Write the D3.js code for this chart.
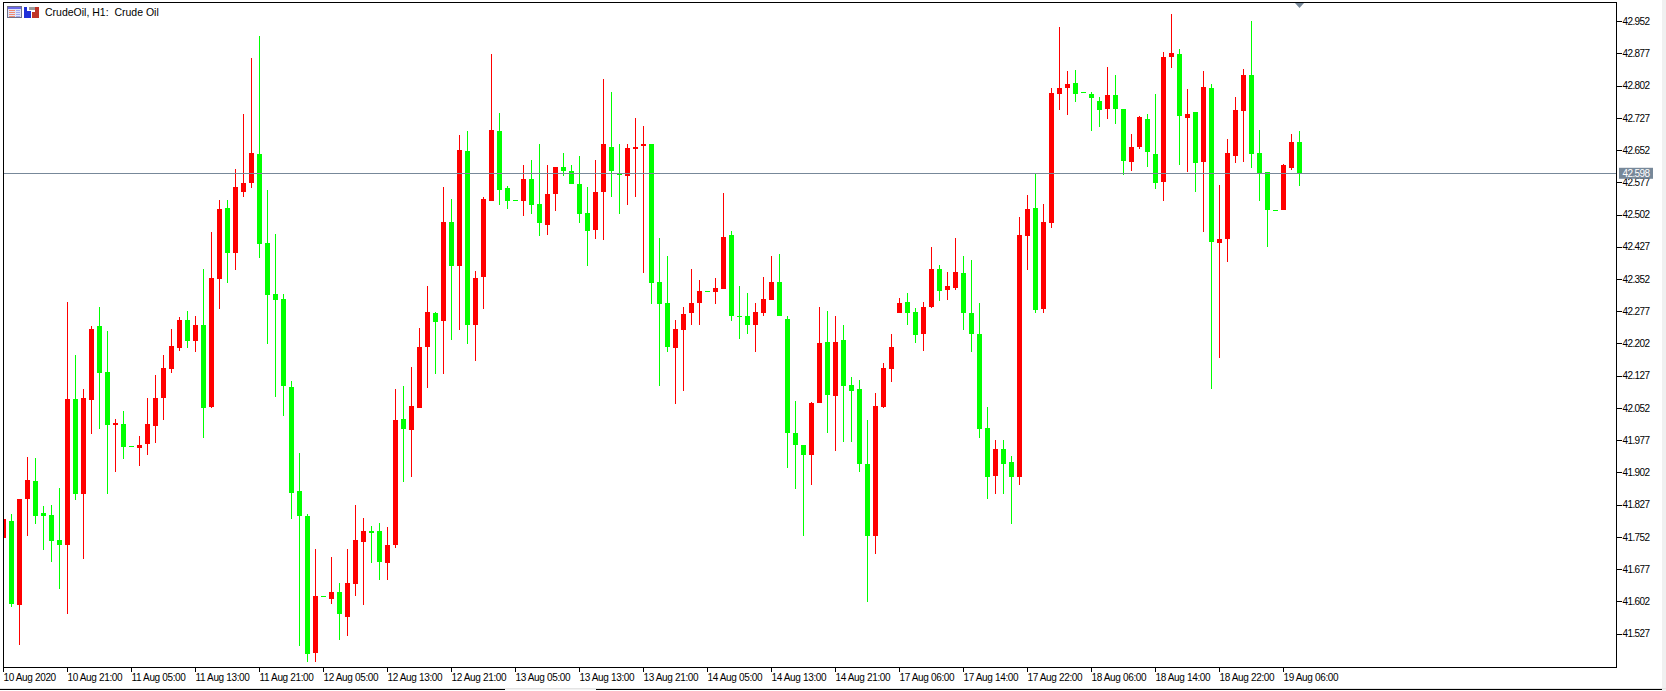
<!DOCTYPE html>
<html>
<head>
<meta charset="utf-8">
<title>CrudeOil, H1</title>
<script src="https://d3js.org/d3.v7.min.js"></script>
<style>
  html, body { margin: 0; padding: 0; background: #fff; overflow: hidden; }
  svg { display: block; }
  text { font-family: "Liberation Sans", sans-serif; font-size: 10px; fill: #000; }
  .axis-x text { letter-spacing: -0.35px; }
  .axis-y text { letter-spacing: -0.6px; }
  .axis path, .axis line { stroke: #000; shape-rendering: crispEdges; }
</style>
</head>
<body>
<svg width="1666" height="691"></svg>
<script>
const width = 1666;
const height = 691;

const title = "CrudeOil, H1:  Crude Oil";
const lastPrice = 42.598;

const opens = [
  41.748,41.787,41.592,41.838,41.880,41.806,41.801,41.743,41.730,42.072,
  41.851,42.070,42.242,42.135,42.012,42.013,41.961,41.958,41.967,42.009,
  42.075,42.142,42.191,42.256,42.207,42.244,42.053,42.352,42.517,42.413,
  42.555,42.576,42.643,42.435,42.316,42.305,42.100,41.857,41.799,41.480,
  41.611,41.606,41.622,41.564,41.639,41.739,41.764,41.764,41.690,41.732,
  42.025,42.000,42.051,42.194,42.272,42.254,42.484,42.382,42.650,42.243,
  42.355,42.534,42.697,42.564,42.535,42.534,42.585,42.526,42.478,42.550,
  42.613,42.603,42.573,42.505,42.466,42.555,42.659,42.597,42.592,42.655,
  42.662,42.666,42.344,42.295,42.191,42.233,42.271,42.296,42.323,42.320,
  42.329,42.454,42.265,42.265,42.243,42.273,42.303,42.344,42.258,41.992,
  41.964,41.942,42.063,42.205,42.079,42.209,42.104,42.095,41.920,41.751,
  42.053,42.142,42.272,42.298,42.274,42.224,42.287,42.375,42.326,42.331,
  42.365,42.272,42.223,42.004,41.893,41.955,41.925,41.890,42.452,42.517,
  42.282,42.483,42.784,42.797,42.809,42.788,42.783,42.767,42.749,42.781,
  42.748,42.625,42.660,42.725,42.643,42.578,42.869,42.876,42.728,42.741,
  42.625,42.797,42.436,42.445,42.639,42.744,42.827,42.645,42.601,42.512,
  42.513,42.611,42.671,
];
const highs = [
  41.792,41.803,41.838,41.936,41.934,41.822,41.824,41.864,42.298,42.174,
  42.095,42.242,42.286,42.230,42.025,42.044,41.961,41.985,42.074,42.128,
  42.174,42.235,42.263,42.277,42.265,42.375,42.461,42.536,42.536,42.608,
  42.736,42.867,42.918,42.559,42.456,42.316,42.114,41.946,41.803,41.722,
  41.611,41.703,41.642,41.722,41.824,41.794,41.775,41.782,41.773,42.095,
  42.102,42.146,42.237,42.335,42.274,42.566,42.538,42.687,42.697,42.370,
  42.543,42.876,42.739,42.568,42.535,42.617,42.629,42.666,42.617,42.613,
  42.645,42.617,42.638,42.566,42.629,42.818,42.788,42.666,42.666,42.727,
  42.708,42.666,42.447,42.405,42.256,42.286,42.375,42.349,42.323,42.354,
  42.552,42.463,42.335,42.319,42.295,42.356,42.405,42.410,42.265,42.067,
  41.964,42.065,42.286,42.277,42.265,42.244,42.123,42.116,42.023,42.086,
  42.156,42.223,42.307,42.319,42.284,42.298,42.426,42.384,42.368,42.447,
  42.405,42.396,42.295,42.053,41.976,41.976,41.939,42.496,42.547,42.597,
  42.526,42.797,42.939,42.837,42.839,42.788,42.788,42.776,42.846,42.827,
  42.748,42.690,42.732,42.736,42.783,42.881,42.969,42.888,42.795,42.741,
  42.837,42.806,42.571,42.678,42.776,42.841,42.953,42.699,42.601,42.512,
  42.620,42.690,42.697,
];
const lows = [
  41.748,41.587,41.499,41.751,41.781,41.720,41.692,41.629,41.569,41.837,
  41.699,41.991,42.002,41.851,41.902,41.932,41.961,41.916,41.942,41.970,
  42.023,42.133,42.184,42.191,42.182,41.981,42.051,42.282,42.341,42.373,
  42.543,42.564,42.401,42.201,42.077,42.033,41.792,41.496,41.459,41.459,
  41.611,41.594,41.510,41.520,41.611,41.590,41.690,41.650,41.650,41.723,
  41.879,41.890,42.051,42.098,42.131,42.131,42.210,42.233,42.201,42.161,
  42.282,42.534,42.525,42.515,42.535,42.499,42.504,42.452,42.455,42.511,
  42.592,42.574,42.483,42.382,42.445,42.443,42.543,42.504,42.525,42.543,
  42.366,42.294,42.103,42.182,42.061,42.091,42.243,42.245,42.323,42.294,
  42.329,42.254,42.212,42.224,42.182,42.264,42.303,42.264,41.911,41.862,
  41.751,41.872,42.063,41.993,41.951,41.972,41.972,41.902,41.597,41.711,
  42.051,42.112,42.271,42.243,42.203,42.184,42.284,42.299,42.303,42.326,
  42.233,42.182,41.981,41.839,41.851,41.851,41.781,41.872,42.372,42.271,
  42.273,42.471,42.746,42.735,42.765,42.788,42.697,42.707,42.725,42.714,
  42.595,42.604,42.655,42.613,42.562,42.534,42.844,42.618,42.602,42.555,
  42.462,42.096,42.168,42.392,42.623,42.625,42.611,42.534,42.425,42.512,
  42.513,42.606,42.569,
];
const closes = [
  41.792,41.594,41.838,41.883,41.799,41.799,41.741,41.730,42.072,41.851,
  42.074,42.235,42.133,42.012,42.016,41.960,41.961,41.964,42.013,42.074,
  42.144,42.195,42.256,42.208,42.244,42.051,42.354,42.515,42.413,42.566,
  42.575,42.645,42.434,42.313,42.303,42.103,41.853,41.799,41.478,41.612,
  41.611,41.622,41.571,41.642,41.743,41.764,41.760,41.692,41.731,42.023,
  42.002,42.055,42.193,42.274,42.252,42.484,42.382,42.652,42.243,42.354,
  42.538,42.699,42.560,42.534,42.535,42.585,42.525,42.483,42.550,42.613,
  42.603,42.574,42.504,42.464,42.554,42.666,42.603,42.594,42.657,42.659,
  42.666,42.343,42.294,42.194,42.235,42.270,42.295,42.323,42.323,42.330,
  42.449,42.264,42.263,42.243,42.274,42.305,42.344,42.264,41.993,41.965,
  41.942,42.062,42.202,42.082,42.205,42.103,42.091,41.921,41.751,42.055,
  42.144,42.193,42.295,42.273,42.222,42.286,42.375,42.324,42.335,42.368,
  42.273,42.224,42.002,41.890,41.955,41.921,41.890,42.454,42.515,42.278,
  42.484,42.785,42.797,42.806,42.784,42.788,42.774,42.746,42.781,42.749,
  42.627,42.659,42.729,42.648,42.576,42.869,42.878,42.732,42.736,42.623,
  42.799,42.438,42.445,42.645,42.746,42.827,42.644,42.598,42.513,42.512,
  42.617,42.671,42.598,
];

// one label every 8 bars
const xTickLabels = [
  "10 Aug 2020", "10 Aug 21:00", "11 Aug 05:00", "11 Aug 13:00", "11 Aug 21:00",
  "12 Aug 05:00", "12 Aug 13:00", "12 Aug 21:00", "13 Aug 05:00", "13 Aug 13:00",
  "13 Aug 21:00", "14 Aug 05:00", "14 Aug 13:00", "14 Aug 21:00", "17 Aug 06:00",
  "17 Aug 14:00", "17 Aug 22:00", "18 Aug 06:00", "18 Aug 14:00", "18 Aug 22:00",
  "19 Aug 06:00",
];
const yTicks = [
  42.952, 42.877, 42.802, 42.727, 42.652, 42.577, 42.502, 42.427, 42.352, 42.277,
  42.202, 42.127, 42.052, 41.977, 41.902, 41.827, 41.752, 41.677, 41.602, 41.527,
];

const bars = opens.map((open, i) => ({
  i, open, high: highs[i], low: lows[i], close: closes[i],
}));

const svg = d3.select("svg");

const plotLeft = 3.5;
const plotRight = 1616.5;
const plotTop = 2.5;
const plotBottom = 667.5;
const bodyWidth = 5;

const x = d3.scaleLinear().domain([0, bars.length - 1]).range([3.5, 1299.5]);
const y = d3.scaleLinear().domain([42.952, 41.527]).range([21.5, 632.5]);
// the terminal rounds its label rows on its own, they drift a pixel from the bars
const yLabels = d3.scaleLinear().domain([42.952, 41.527]).range([21.7, 634]);

// window edges
svg.append("rect").attr("x", 1662).attr("y", 0).attr("width", 4).attr("height", height).attr("fill", "#f0f0f0");
svg.append("rect").attr("x", 0).attr("y", 688).attr("width", width).attr("height", 1).attr("fill", "#e4e4e4");
svg.append("rect").attr("x", 0).attr("y", 689).attr("width", 505).attr("height", 1).attr("fill", "#000");
svg.append("rect").attr("x", 505).attr("y", 689).attr("width", 91).attr("height", 1).attr("fill", "#f0f0f0");
svg.append("rect").attr("x", 596).attr("y", 689).attr("width", 1066).attr("height", 1).attr("fill", "#000");

svg.append("clipPath").attr("id", "plot")
  .append("rect")
  .attr("x", plotLeft).attr("y", plotTop)
  .attr("width", plotRight - plotLeft).attr("height", plotBottom - plotTop);

const plot = svg.append("g").attr("clip-path", "url(#plot)");

const barColor = (d) => (d.close > d.open ? "#ff0000" : "#00ff00");

plot.append("g")
  .attr("class", "wicks")
  .selectAll("line")
  .data(bars)
  .enter()
  .append("line")
  .attr("x1", (d) => x(d.i))
  .attr("x2", (d) => x(d.i))
  .attr("y1", (d) => y(d.high))
  .attr("y2", (d) => y(d.low))
  .attr("stroke", barColor)
  .attr("stroke-width", 1)
  .attr("shape-rendering", "crispEdges");

plot.append("g")
  .attr("class", "bodies")
  .selectAll("rect")
  .data(bars)
  .enter()
  .append("rect")
  .attr("x", (d) => x(d.i) - bodyWidth / 2)
  .attr("y", (d) => y(Math.max(d.open, d.close)))
  .attr("width", bodyWidth)
  .attr("height", (d) => Math.max(1, Math.abs(y(d.open) - y(d.close))))
  .attr("fill", barColor)
  .attr("shape-rendering", "crispEdges");

// last price line
plot.append("line")
  .attr("x1", plotLeft).attr("x2", plotRight)
  .attr("y1", y(lastPrice)).attr("y2", y(lastPrice))
  .attr("stroke", "#778899")
  .attr("shape-rendering", "crispEdges");

// frame
svg.append("rect")
  .attr("x", plotLeft).attr("y", plotTop)
  .attr("width", plotRight - plotLeft).attr("height", plotBottom - plotTop)
  .attr("fill", "none").attr("stroke", "#000")
  .attr("shape-rendering", "crispEdges");

const xAxis = svg.append("g")
  .attr("class", "axis axis-x")
  .attr("transform", `translate(0,${plotBottom})`)
  .call(
    d3.axisBottom(x)
      .tickValues(xTickLabels.map((_, k) => k * 8))
      .tickFormat((v) => xTickLabels[v / 8])
      .tickSize(4)
      .tickSizeOuter(0)
      .offset(0)
  );
xAxis.select(".domain").remove();
xAxis.selectAll("text").attr("text-anchor", "start").attr("y", 6).attr("dy", "0.71em");

const yAxis = svg.append("g")
  .attr("class", "axis axis-y")
  .attr("transform", `translate(${plotRight},0)`)
  .call(
    d3.axisRight(yLabels)
      .tickValues(yTicks)
      .tickFormat(d3.format(".3f"))
      .tickSize(5)
      .tickPadding(1)
      .offset(0)
  );
yAxis.select(".domain").remove();

// last price tag
svg.append("rect")
  .attr("x", 1619).attr("y", y(lastPrice) - 5.5)
  .attr("width", 34).attr("height", 11)
  .attr("fill", "#778899");
svg.append("text")
  .attr("class", "price-tag")
  .attr("x", 1636).attr("y", y(lastPrice))
  .attr("dy", "0.36em")
  .attr("text-anchor", "middle")
  .style("fill", "#fff")
  .style("letter-spacing", "-0.6px")
  .text(d3.format(".3f")(lastPrice));

// marker above the current bar
svg.append("path")
  .attr("d", d3.line()([[x(bars.length - 1) - 4.5, 3], [x(bars.length - 1) + 4.5, 3], [x(bars.length - 1), 8]]))
  .attr("fill", "#778899");

// toolbar icons next to the title
const icons = svg.append("g").attr("class", "icons").attr("shape-rendering", "crispEdges");
icons.append("rect").attr("x", 7.5).attr("y", 6.5).attr("width", 14).attr("height", 11).attr("fill", "#dfe4f8").attr("stroke", "#707088");
icons.append("rect").attr("x", 8).attr("y", 7).attr("width", 13).attr("height", 2).attr("fill", "#6a6ae8");
[10, 12, 14, 16].forEach((r) => {
  icons.append("rect").attr("x", 9).attr("y", r).attr("width", 6).attr("height", 1).attr("fill", "#f08a70");
  icons.append("rect").attr("x", 16).attr("y", r).attr("width", 4).attr("height", 1).attr("fill", "#a0a8f0");
});
icons.append("rect").attr("x", 24).attr("y", 7).attr("width", 3).attr("height", 11).attr("fill", "#2030d8");
icons.append("rect").attr("x", 24).attr("y", 11).attr("width", 7).attr("height", 7).attr("fill", "#2030d8");
icons.append("rect").attr("x", 29).attr("y", 7).attr("width", 6).attr("height", 3).attr("fill", "#9a9a9a");
icons.append("rect").attr("x", 35).attr("y", 7).attr("width", 4).attr("height", 11).attr("fill", "#c03428");
icons.append("rect").attr("x", 32).attr("y", 12).attr("width", 7).attr("height", 6).attr("fill", "#c03428");

svg.append("text")
  .attr("x", 45).attr("y", 16)
  .style("font-size", "10.5px")
  .style("white-space", "pre")
  .text(title);
</script>
</body>
</html>
